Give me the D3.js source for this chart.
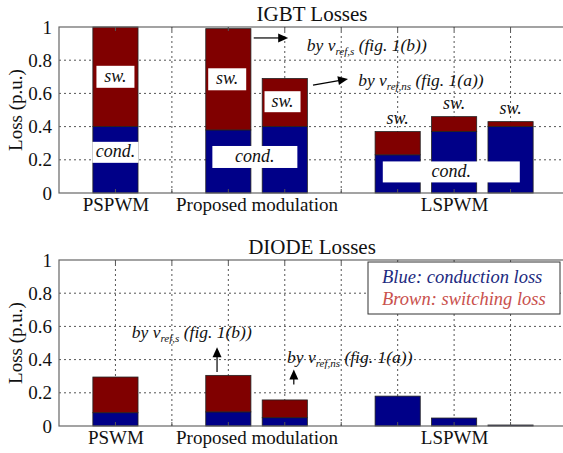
<!DOCTYPE html>
<html>
<head>
<meta charset="utf-8">
<script src="https://d3js.org/d3.v7.min.js"></script>
<style>
  body { margin: 0; background: #fff; }
  text { font-family: "Liberation Serif", "Times New Roman", serif; fill: #111; }
  .grid line { stroke: #555; stroke-dasharray: 2,3; }
  .note { font-style: italic; font-family: "Liberation Serif", serif; }
</style>
</head>
<body>
<div id="chart"></div>
<script>
// bar positions on the numeric x axis
var positions = [1, 3, 4, 6, 7, 8];

// IGBT losses (p.u.)
var igbtCond = [0.40, 0.38, 0.40, 0.23, 0.37, 0.40];
var igbtSw   = [0.60, 0.61, 0.29, 0.14, 0.09, 0.03];

// diode losses (p.u.)
var diodeCond = [0.08, 0.085, 0.05, 0.18, 0.048, 0.006];
var diodeSw   = [0.215, 0.22, 0.107, 0, 0, 0];

var groupPos = [1, 3.5, 7];
var igbtGroups = ["PSPWM", "Proposed modulation", "LSPWM"];
var diodeGroups = ["PSWM", "Proposed modulation", "LSPWM"];
var yTicks = [0, 0.2, 0.4, 0.6, 0.8, 1];

var svgWidth = 563, svgHeight = 453;
var blue = "#000088", brown = "#800000";

var svg = d3.select("#chart").append("svg")
  .attr("width", svgWidth).attr("height", svgHeight);

var x = d3.scaleLinear().domain([0, 9]).range([59, 567]);
var barW = x(0.8) - x(0);

// draws one panel, returns its group and y scale
function panel(top, title, cond, sw, groups) {
  var y = d3.scaleLinear().domain([0, 1]).range([top + 166, top]);
  var g = svg.append("g");

  // grid
  var grid = g.append("g").attr("class", "grid");
  grid.selectAll(".gy").data(yTicks.slice(1, 5)).enter().append("line")
    .attr("x1", x(0)).attr("x2", x(9))
    .attr("y1", d => y(d)).attr("y2", d => y(d));
  grid.selectAll(".gx").data(d3.range(1, 9)).enter().append("line")
    .attr("x1", d => x(d)).attr("x2", d => x(d))
    .attr("y1", y(0)).attr("y2", y(1));

  // stacked bars
  var bars = g.append("g");
  bars.selectAll(".c").data(positions).enter().append("rect")
    .attr("x", (d, i) => x(d) - barW / 2)
    .attr("y", (d, i) => y(cond[i]))
    .attr("width", barW)
    .attr("height", (d, i) => y(0) - y(cond[i]))
    .attr("fill", blue).attr("stroke", "#222").attr("stroke-width", 0.8);
  bars.selectAll(".s").data(positions).enter().append("rect")
    .attr("x", (d, i) => x(d) - barW / 2)
    .attr("y", (d, i) => y(cond[i] + sw[i]))
    .attr("width", barW)
    .attr("height", (d, i) => y(cond[i]) - y(cond[i] + sw[i]))
    .attr("fill", brown).attr("stroke", "#222").attr("stroke-width", 0.8)
    .attr("display", (d, i) => sw[i] > 0 ? null : "none");

  // frame
  g.append("rect").attr("x", x(0)).attr("y", y(1))
    .attr("width", x(9) - x(0)).attr("height", y(0) - y(1))
    .attr("fill", "none").attr("stroke", "#666").attr("stroke-width", 1.2);

  // small inner ticks on top and bottom
  g.selectAll(".tk").data(d3.range(1, 9)).enter().append("line")
    .attr("x1", d => x(d)).attr("x2", d => x(d))
    .attr("y1", y(1)).attr("y2", y(1) + 4).attr("stroke", "#555");
  g.selectAll(".tb").data(d3.range(1, 9)).enter().append("line")
    .attr("x1", d => x(d)).attr("x2", d => x(d))
    .attr("y1", y(0)).attr("y2", y(0) - 4).attr("stroke", "#555");

  // y axis
  var yAxis = g.append("g").attr("transform", `translate(${x(0)},0)`)
    .call(d3.axisLeft(y).tickValues(yTicks).tickFormat(d3.format("~g")).tickSize(0).tickPadding(7));
  yAxis.select(".domain").remove();
  yAxis.selectAll("text").attr("font-size", "19px")
    .style("font-family", '"Liberation Serif", serif').attr("fill", "#111");

  // x group labels
  var xAxis = g.append("g").attr("transform", `translate(0,${y(0)})`)
    .call(d3.axisBottom(x).tickValues(groupPos).tickFormat((d, i) => groups[i]).tickSize(0).tickPadding(5));
  xAxis.select(".domain").remove();
  xAxis.selectAll("text").attr("font-size", "19px")
    .style("font-family", '"Liberation Serif", serif').attr("fill", "#111");

  g.append("text").attr("transform", `translate(22,${(y(0) + y(1)) / 2}) rotate(-90)`)
    .attr("text-anchor", "middle").attr("font-size", "19px").text("Loss (p.u.)");

  g.append("text").attr("x", 312).attr("y", top - 6)
    .attr("text-anchor", "middle").attr("font-size", "21px").text(title);

  return { g: g, y: y };
}

function labelBox(g, cx, cy, w, h, txt) {
  g.append("rect").attr("x", cx - w / 2).attr("y", cy - h / 2)
    .attr("width", w).attr("height", h).attr("fill", "#fff");
  g.append("text").attr("x", cx).attr("y", cy + 5).attr("text-anchor", "middle")
    .attr("class", "note").style("font-size", "18px").text(txt);
}

function refText(g, px, py, sub, rest) {
  var t = g.append("text").attr("class", "note").attr("x", px).attr("y", py)
    .style("font-size", "17.5px");
  t.append("tspan").text("by v");
  t.append("tspan").style("font-size", "11px").attr("dy", 4).text(sub);
  t.append("tspan").attr("dy", -4).text(" " + rest);
}

function arrow(g, x1, y1, x2, y2) {
  var ang = Math.atan2(y2 - y1, x2 - x1), L = 10, W = 4.5;
  g.append("line").attr("x1", x1).attr("y1", y1)
    .attr("x2", x2 - Math.cos(ang) * L * 0.8).attr("y2", y2 - Math.sin(ang) * L * 0.8)
    .attr("stroke", "#000").attr("stroke-width", 1.2);
  var bx = x2 - Math.cos(ang) * L, by = y2 - Math.sin(ang) * L;
  g.append("path").attr("d", `M${x2},${y2}L${bx - Math.sin(ang) * W},${by + Math.cos(ang) * W}L${bx + Math.sin(ang) * W},${by - Math.cos(ang) * W}Z`)
    .attr("fill", "#000");
}

// IGBT panel
var p1 = panel(27, "IGBT Losses", igbtCond, igbtSw, igbtGroups);
var y1 = p1.y;
labelBox(p1.g, x(1), y1(0.70), 38, 22, "sw.");
labelBox(p1.g, x(1), y1(0.245), barW + 1, 21, "cond.");
labelBox(p1.g, x(2.98), y1(0.685), 38, 22, "sw.");
labelBox(p1.g, x(3.96), y1(0.55), 36, 21, "sw.");
labelBox(p1.g, x(3.47), y1(0.217), 85, 22, "cond.");
labelBox(p1.g, x(6.95), y1(0.127), 137, 21, "cond.");
[3, 4, 5].forEach(function(i) {
  p1.g.append("text").attr("class", "note").attr("text-anchor", "middle")
    .style("font-size", "18px")
    .attr("x", x(positions[i])).attr("y", y1(igbtCond[i] + igbtSw[i]) - 8).text("sw.");
});
arrow(p1.g, x(3.45), y1(0.934), x(4.06), y1(0.934));
refText(p1.g, x(4.39), y1(0.855), "ref,s", "(fig. 1(b))");
arrow(p1.g, x(4.5), y1(0.65), x(5.12), y1(0.687));
refText(p1.g, x(5.3), y1(0.645), "ref,ns", "(fig. 1(a))");

// DIODE panel
var p2 = panel(260, "DIODE Losses", diodeCond, diodeSw, diodeGroups);
var y2 = p2.y;
arrow(p2.g, x(2.8), y2(0.325), x(2.8), y2(0.475));
refText(p2.g, x(1.29), y2(0.53), "ref,s", "(fig. 1(b))");
arrow(p2.g, x(4.16), y2(0.25), x(4.16), y2(0.34));
refText(p2.g, x(4.04), y2(0.38), "ref,ns", "(fig. 1(a))");

// legend
var lg = p2.g.append("g");
lg.append("rect").attr("x", 368).attr("y", 262).attr("width", 192).attr("height", 52)
  .attr("fill", "#fff").attr("stroke", "#333").attr("stroke-width", 1);
lg.append("text").attr("class", "note").attr("x", 382).attr("y", 283)
  .style("font-size", "18.5px").style("fill", "#1c2a80").text("Blue: conduction loss");
lg.append("text").attr("class", "note").attr("x", 382).attr("y", 305)
  .style("font-size", "18.5px").style("fill", "#c9514d").text("Brown: switching loss");
</script>
</body>
</html>
